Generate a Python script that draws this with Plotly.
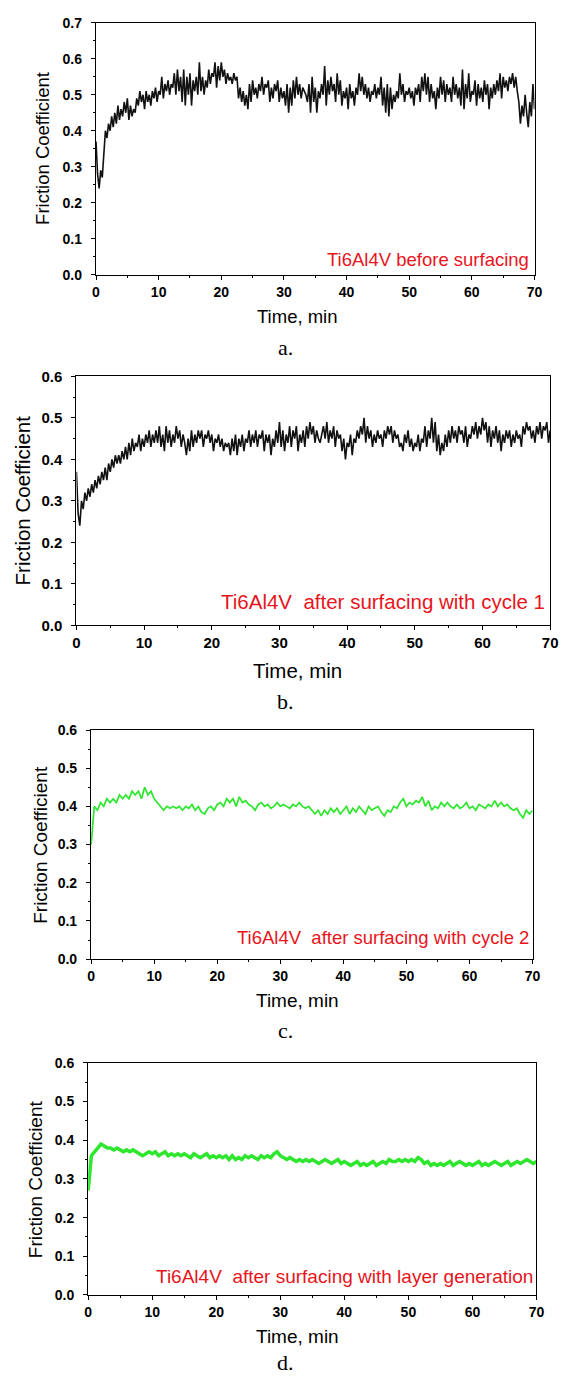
import plotly.graph_objects as go

W, H = 566, 1380

# ---------------- data ----------------
time_a = [i * 0.25 for i in range(281)]   # sampling grid, min
time_b = [i * 0.25 for i in range(281)]
time_c = [i * 0.5 for i in range(141)]
time_d = [i * 0.5 for i in range(141)]

mu_a = [
    .37, .28, .24, .29, .27, .35, .40, .38, .42,
    .40, .44, .41, .45, .42, .47, .43, .46,
    .44, .48, .45, .49, .43, .47, .44, .46,
    .45, .49, .47, .51, .48, .50, .46, .51,
    .48, .50, .47, .51, .49, .52, .48, .51,
    .50, .55, .49, .53, .51, .54, .50, .53,
    .52, .56, .50, .57, .51, .55, .48, .57,
    .47, .55, .50, .56, .47, .54, .51, .55,
    .50, .59, .51, .55, .50, .54, .52, .57,
    .53, .56, .55, .59, .52, .58, .54, .59,
    .55, .57, .53, .56, .54, .55, .53, .56,
    .54, .55, .49, .52, .48, .51, .47, .50,
    .46, .53, .48, .54, .50, .52, .49, .53,
    .51, .55, .50, .53, .52, .54, .48, .52,
    .49, .53, .51, .54, .48, .52, .49, .51,
    .47, .53, .45, .52, .47, .54, .49, .55,
    .50, .53, .49, .52, .51, .50, .48, .53,
    .45, .55, .48, .52, .45, .51, .49, .53,
    .50, .58, .47, .54, .50, .55, .51, .53,
    .48, .56, .50, .54, .47, .51, .49, .52,
    .46, .53, .49, .51, .47, .52, .50, .56,
    .51, .55, .50, .53, .49, .52, .48, .51,
    .50, .53, .49, .52, .50, .55, .47, .52,
    .45, .53, .44, .52, .46, .50, .48, .51,
    .49, .56, .50, .53, .48, .51, .50, .52,
    .49, .51, .47, .52, .50, .53, .48, .55,
    .51, .56, .50, .55, .48, .53, .49, .51,
    .46, .52, .49, .55, .50, .54, .48, .53,
    .50, .52, .48, .55, .50, .53, .49, .52,
    .47, .57, .46, .53, .49, .56, .48, .51,
    .50, .54, .47, .53, .49, .52, .48, .54,
    .50, .53, .46, .52, .49, .53, .50, .54,
    .51, .56, .49, .55, .52, .54, .51, .55,
    .53, .56, .52, .55, .51, .48, .42, .47,
    .44, .50, .45, .41, .48, .44, .53, .46,
]

mu_b = [
    .37, .27, .24, .30, .28, .32, .30, .33, .31,
    .34, .32, .35, .33, .36, .34, .37, .35,
    .38, .35, .39, .37, .40, .38, .41, .39,
    .41, .39, .42, .40, .43, .40, .44, .41,
    .45, .42, .44, .43, .46, .42, .45, .43,
    .46, .44, .47, .43, .46, .44, .47, .44,
    .48, .43, .46, .42, .48, .44, .47, .43,
    .46, .44, .48, .45, .47, .43, .46, .44,
    .41, .45, .42, .47, .43, .46, .44, .47,
    .45, .47, .43, .46, .45, .47, .44, .46,
    .42, .45, .44, .46, .43, .45, .42, .44,
    .43, .44, .41, .45, .42, .46, .41, .45,
    .43, .46, .42, .45, .44, .47, .43, .46,
    .44, .47, .43, .46, .45, .47, .42, .46,
    .44, .46, .41, .45, .43, .47, .44, .49,
    .43, .47, .42, .46, .44, .48, .43, .47,
    .45, .48, .42, .46, .44, .47, .43, .48,
    .45, .49, .46, .48, .44, .47, .45, .44,
    .46, .48, .45, .49, .44, .47, .45, .48,
    .43, .47, .45, .46, .42, .45, .40, .44,
    .43, .46, .41, .45, .44, .47, .45, .48,
    .46, .50, .44, .48, .45, .47, .43, .46,
    .44, .47, .45, .46, .43, .47, .45, .48,
    .46, .48, .44, .47, .45, .46, .43, .44,
    .42, .46, .44, .47, .43, .45, .42, .44,
    .43, .46, .42, .45, .44, .48, .43, .47,
    .45, .50, .44, .49, .42, .46, .41, .44,
    .42, .46, .43, .47, .44, .48, .45, .47,
    .44, .48, .46, .47, .44, .48, .43, .46,
    .45, .48, .46, .49, .45, .48, .46, .50,
    .47, .49, .44, .48, .43, .47, .45, .48,
    .44, .47, .42, .46, .44, .47, .45, .47,
    .43, .46, .44, .47, .45, .46, .43, .48,
    .46, .49, .47, .48, .45, .47, .44, .48,
    .46, .49, .45, .48, .47, .49, .44, .47,
]

mu_c = [
    .30, .40, .39, .41, .40, .42, .41, .42, .41, .43,
    .42, .43, .42, .44, .43, .44, .42, .45, .43, .44,
    .42, .41, .40, .39, .40, .395, .40, .395, .40, .39,
    .40, .395, .405, .39, .40, .385, .38, .395, .40, .39,
    .405, .41, .40, .42, .41, .42, .40, .425, .41, .415,
    .405, .40, .39, .405, .41, .40, .405, .395, .40, .41,
    .40, .405, .40, .395, .405, .40, .41, .40, .395, .40,
    .39, .38, .39, .375, .39, .38, .395, .385, .395, .38,
    .39, .40, .38, .395, .385, .40, .39, .38, .40, .39,
    .395, .40, .385, .375, .39, .385, .40, .395, .41, .42,
    .40, .41, .405, .415, .41, .425, .40, .415, .39, .40,
    .395, .41, .40, .41, .40, .395, .405, .395, .40, .41,
    .395, .40, .39, .405, .40, .395, .405, .40, .415, .40,
    .41, .40, .405, .395, .39, .395, .38, .37, .39, .38,
    .39,
]

mu_d = [
    .27, .36, .37, .38, .39, .385, .38, .38, .375, .38,
    .375, .37, .375, .37, .375, .37, .365, .36, .365, .37,
    .365, .37, .36, .365, .37, .36, .365, .36, .365, .36,
    .365, .36, .355, .365, .36, .355, .36, .365, .355, .36,
    .355, .36, .355, .36, .35, .36, .35, .355, .35, .36,
    .355, .36, .355, .35, .36, .355, .36, .355, .365, .37,
    .36, .355, .35, .355, .35, .345, .35, .345, .35, .345,
    .35, .345, .34, .345, .35, .345, .34, .345, .35, .34,
    .345, .34, .335, .34, .345, .335, .34, .335, .34, .345,
    .335, .34, .345, .34, .35, .345, .345, .35, .345, .35,
    .345, .35, .345, .355, .35, .34, .345, .335, .34, .335,
    .34, .335, .34, .345, .335, .34, .345, .34, .335, .34,
    .335, .34, .345, .335, .34, .335, .34, .345, .34, .335,
    .34, .345, .335, .34, .345, .34, .345, .35, .345, .34,
    .345,
]

x_ticks = [0, 10, 20, 30, 40, 50, 60, 70]
labels = ["Ti6Al4V before surfacing",
          "Ti6Al4V  after surfacing with cycle 1",
          "Ti6Al4V  after surfacing with cycle 2",
          "Ti6Al4V  after surfacing with layer generation"]
sub_labels = ["a.", "b.", "c.", "d."]

# ---------------- layout geometry (pixels) ----------------
panels = [
    dict(t=time_a, y=mu_a, ymax=0.7, box=(94, 542, 14, 269), color="#111111", lw=1.6,
         ytitle_x=40, xtitle_y=311, sub_y=343, lab=(537, 254, 18.5), tfs=14, afs=18.5),
    dict(t=time_b, y=mu_b, ymax=0.6, box=(74, 558, 372, 624), color="#111111", lw=1.6,
         ytitle_x=19, xtitle_y=670, sub_y=701, lab=(554, 600, 20.5), tfs=15, afs=20.5),
    dict(t=time_c, y=mu_c, ymax=0.6, box=(89, 540, 730, 962), color="#2ee62e", lw=1.7,
         ytitle_x=37, xtitle_y=1004, sub_y=1034, lab=(537, 940, 18.5), tfs=14, afs=19),
    dict(t=time_d, y=mu_d, ymax=0.6, box=(86, 544, 1067, 1302), color="#2ee62e", lw=3.5,
         ytitle_x=33, xtitle_y=1344, sub_y=1370, lab=(541, 1283, 19), tfs=14, afs=19),
]

SANS = "Liberation Sans, Arial, sans-serif"
SERIF = "Liberation Serif, Times New Roman, serif"

fig = go.Figure()
annotations = []
layout = dict(width=W, height=H, margin=dict(l=0, r=0, t=0, b=0),
              paper_bgcolor="white", plot_bgcolor="white", showlegend=False)

for i, p in enumerate(panels, start=1):
    x0, x1, y0, y1 = p["box"]
    xs = "" if i == 1 else str(i)
    fig.add_trace(go.Scatter(x=p["t"], y=p["y"], mode="lines",
                             line=dict(color=p["color"], width=p["lw"]),
                             xaxis="x" + xs, yaxis="y" + xs))
    common = dict(showline=True, mirror=True, linecolor="black", linewidth=1.3,
                  ticks="outside", ticklen=4, tickwidth=1.2, tickcolor="black",
                  showgrid=False, zeroline=False,
                  tickfont=dict(family=SANS, size=p["tfs"], color="black", weight="bold"))
    layout["xaxis" + xs] = dict(common, domain=[x0 / W, x1 / W], anchor="y" + xs,
                                range=[0, 70], tickvals=x_ticks,
                                minor=dict(dtick=5, tick0=0, ticklen=2, ticks="outside",
                                           tickcolor="black"))
    layout["yaxis" + xs] = dict(common, domain=[1 - y1 / H, 1 - y0 / H], anchor="x" + xs,
                                range=[0, p["ymax"]], dtick=0.1, tick0=0, tickformat=".1f",
                                ticklabelstandoff=6,
                                minor=dict(dtick=0.05, tick0=0, ticklen=2, ticks="outside",
                                           tickcolor="black"))
    # y title
    annotations.append(dict(text="Friction Coefficient", xref="paper", yref="paper",
                            x=p["ytitle_x"] / W, y=1 - (y0 + y1) / 2 / H, textangle=-90,
                            showarrow=False, xanchor="center", yanchor="middle",
                            font=dict(family=SANS, size=p["afs"], color="black")))
    # x title
    annotations.append(dict(text="Time, min", xref="paper", yref="paper",
                            x=300 / W, y=1 - p["xtitle_y"] / H, showarrow=False,
                            xanchor="center", yanchor="middle",
                            font=dict(family=SANS, size=p["afs"], color="black")))
    # sub label
    annotations.append(dict(text=sub_labels[i - 1], xref="paper", yref="paper",
                            x=288 / W, y=1 - p["sub_y"] / H, showarrow=False,
                            xanchor="center", yanchor="middle",
                            font=dict(family=SERIF, size=22, color="black")))
    # red label
    lx, ly, lfs = p["lab"]
    annotations.append(dict(text=labels[i - 1].replace("  ", "&nbsp; "), xref="paper", yref="paper",
                            x=lx / W, y=1 - ly / H, showarrow=False, borderpad=0,
                            xanchor="right", yanchor="middle",
                            font=dict(family=SANS, size=lfs, color="#e8141c")))

layout["annotations"] = annotations
fig.update_layout(**layout)
fig.write_html("out.html")
